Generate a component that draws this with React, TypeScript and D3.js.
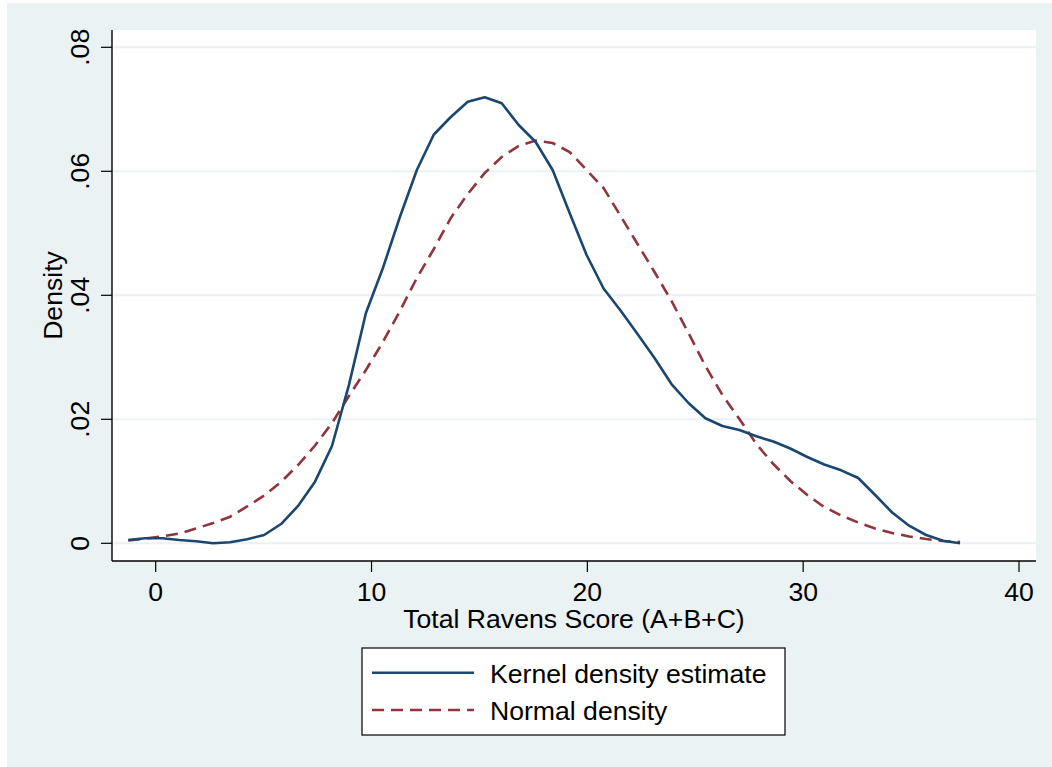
import React from "react";
import * as d3 from "d3";

// Evaluation grid (Total Ravens Score), 50 points
const gridStart = -1.27;
const gridStep = 0.7865;
const kernelDensity = [
  0.00053, 0.00081, 0.00081, 0.00053, 0.00032, 0.0, 0.00016, 0.00065, 0.00134, 0.00311,
  0.00602, 0.00994, 0.01569, 0.02555, 0.03715, 0.0444, 0.05263, 0.06021, 0.06594, 0.06876,
  0.07123, 0.07194, 0.07097, 0.06747, 0.06473, 0.06021, 0.05327, 0.0465, 0.0411, 0.03755,
  0.03376, 0.02989, 0.02569, 0.02263, 0.02016, 0.01892, 0.01827, 0.01726, 0.01642, 0.01529,
  0.01392, 0.01271, 0.01177, 0.01053, 0.00779, 0.00497, 0.00284, 0.00134, 0.00042, 0.0,
];
const normalDensity = [
  0.00045, 0.00077, 0.0011, 0.00158, 0.00239, 0.00327, 0.00429, 0.00594, 0.00771, 0.00989,
  0.01263, 0.01577, 0.0194, 0.02376, 0.02795, 0.03247, 0.03747, 0.04279, 0.04747, 0.05247,
  0.05634, 0.05973, 0.06231, 0.06408, 0.06497, 0.06456, 0.06311, 0.06021, 0.0573, 0.05279,
  0.04827, 0.04376, 0.03908, 0.03392, 0.0286, 0.02392, 0.02005, 0.01602, 0.01279, 0.01005,
  0.00779, 0.00585, 0.00448, 0.00335, 0.00239, 0.00166, 0.0011, 0.00069, 0.00037, 0.00021,
];
const xTicks = [0, 10, 20, 30, 40];
const yTicks = [0, 0.02, 0.04, 0.06, 0.08];
const yTickLabels = ["0", ".02", ".04", ".06", ".08"];
const legendLabels = ["Kernel density estimate", "Normal density"];
const xTitle = "Total Ravens Score (A+B+C)";
const yTitle = "Density";

const W = 1052;
const H = 767;
const plot = { left: 112, right: 1036, top: 30, bottom: 561 };
const FONT = "'Liberation Sans', Arial, sans-serif";
const FS = 26.6;
const NAVY = "#1A476F";
const MAROON = "#90353B";
const BG = "#EAF2F3";

export default function App() {
  const x = d3.scaleLinear().domain([0, 40]).range([155.7, 1019]);
  const y = d3.scaleLinear().domain([0, 0.08]).range([543.3, 47.3]);
  const xs = kernelDensity.map((_, i) => gridStart + i * gridStep);
  const line = d3
    .line<[number, number]>()
    .x((d) => x(d[0]))
    .y((d) => y(d[1]));
  const kPath = line(xs.map((v, i) => [v, kernelDensity[i]]) as [number, number][]) || "";
  const nPath = line(xs.map((v, i) => [v, normalDensity[i]]) as [number, number][]) || "";

  const legend = { x: 362, y: 648, w: 423, h: 87 };

  return (
    <svg
      width={W}
      height={H}
      style={{ position: "absolute", left: 0, top: 0, display: "block" }}
      fontFamily={FONT}
    >
      <rect x={0} y={0} width={W} height={H} fill="#ffffff" />
      <rect x={7} y={3} width={W - 7} height={H - 3} fill={BG} />
      <rect
        x={plot.left}
        y={plot.top}
        width={plot.right - plot.left}
        height={plot.bottom - plot.top}
        fill="#ffffff"
      />
      {yTicks.map((t) => (
        <line
          key={"g" + t}
          x1={plot.left}
          x2={plot.right}
          y1={y(t)}
          y2={y(t)}
          stroke={BG}
          strokeWidth={2}
        />
      ))}
      <path d={nPath} fill="none" stroke={MAROON} strokeWidth={2.6} strokeDasharray="12,7" />
      <path d={kPath} fill="none" stroke={NAVY} strokeWidth={2.6} strokeLinejoin="round" />
      {/* axes */}
      <line x1={plot.left} x2={plot.left} y1={plot.top} y2={plot.bottom} stroke="#000" strokeWidth={1.4} />
      <line x1={plot.left} x2={plot.right} y1={plot.bottom} y2={plot.bottom} stroke="#000" strokeWidth={1.4} />
      {yTicks.map((t, i) => (
        <g key={"yt" + t}>
          <line x1={plot.left - 11} x2={plot.left} y1={y(t)} y2={y(t)} stroke="#000" strokeWidth={1.2} />
          <text
            transform={`translate(89,${y(t)}) rotate(-90)`}
            textAnchor="middle"
            fontSize={FS}
            fill="#000"
          >
            {yTickLabels[i]}
          </text>
        </g>
      ))}
      {xTicks.map((t) => (
        <g key={"xt" + t}>
          <line x1={x(t)} x2={x(t)} y1={plot.bottom} y2={plot.bottom + 11} stroke="#000" strokeWidth={1.2} />
          <text x={x(t)} y={601} textAnchor="middle" fontSize={FS} fill="#000">
            {t}
          </text>
        </g>
      ))}
      <text x={(plot.left + plot.right) / 2} y={628} textAnchor="middle" fontSize={FS} fill="#000">
        {xTitle}
      </text>
      <text
        transform={`translate(62,${(plot.top + plot.bottom) / 2}) rotate(-90)`}
        textAnchor="middle"
        fontSize={FS}
        fill="#000"
      >
        {yTitle}
      </text>
      {/* legend */}
      <rect x={legend.x} y={legend.y} width={legend.w} height={legend.h} fill="#ffffff" stroke="#000" strokeWidth={1.2} />
      <line x1={372} x2={474} y1={672.7} y2={672.7} stroke={NAVY} strokeWidth={2.6} />
      <line x1={372} x2={474} y1={710} y2={710} stroke={MAROON} strokeWidth={2.6} strokeDasharray="12,7" />
      <text x={490} y={683} fontSize={FS} fill="#000">
        {legendLabels[0]}
      </text>
      <text x={490} y={720} fontSize={FS} fill="#000">
        {legendLabels[1]}
      </text>
    </svg>
  );
}
